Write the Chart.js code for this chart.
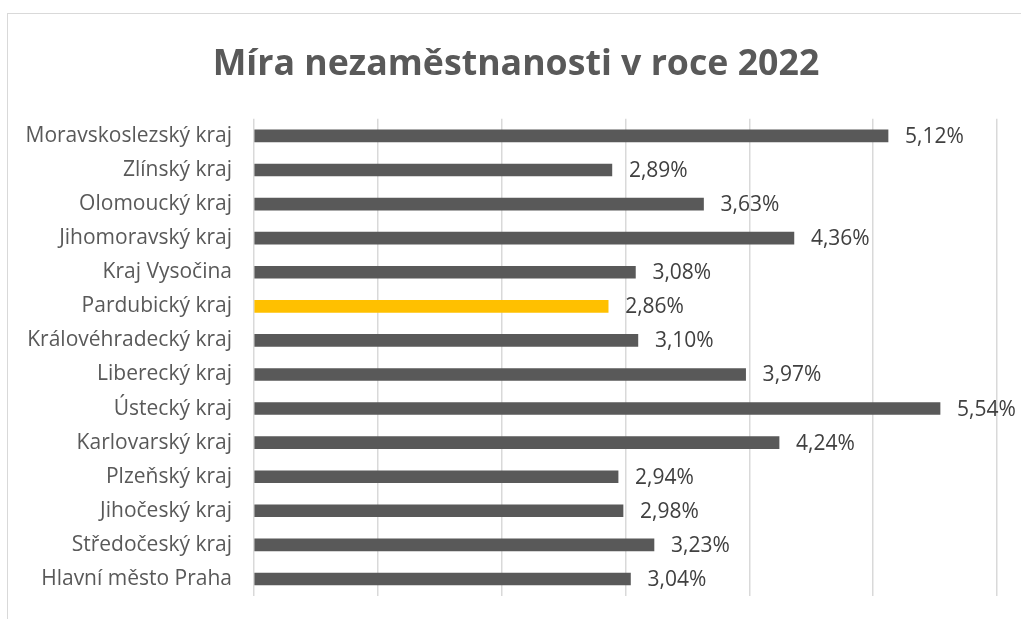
<!DOCTYPE html>
<html>
<head>
<meta charset="utf-8">
<script src="https://cdn.jsdelivr.net/npm/chart.js@4"></script>
<style>
  html, body { margin: 0; padding: 0; background: #fff; overflow: hidden; }
  #wrap { position: relative; width: 1021px; height: 619px; }
  #frame { position: absolute; left: 7px; top: 13px; width: 1100px; height: 700px; border: 1px solid #d9d9d9; box-sizing: border-box; }
  canvas { position: absolute; left: 0; top: 0; }
</style>
</head>
<body>
<div id="wrap">
  <div id="frame"></div>
  <canvas id="c" width="1021" height="619"></canvas>
</div>
<script>
const titleText = "Míra nezaměstnanosti v roce 2022";
const categories = [
  "Moravskoslezský kraj", "Zlínský kraj", "Olomoucký kraj", "Jihomoravský kraj",
  "Kraj Vysočina", "Pardubický kraj", "Královéhradecký kraj", "Liberecký kraj",
  "Ústecký kraj", "Karlovarský kraj", "Plzeňský kraj", "Jihočeský kraj",
  "Středočeský kraj", "Hlavní město Praha"
];
const values = [5.12, 2.89, 3.63, 4.36, 3.08, 2.86, 3.10, 3.97, 5.54, 4.24, 2.94, 2.98, 3.23, 3.04];
const highlighted = "Pardubický kraj";

const FONT = "'Open Sans', Lato, sans-serif";
const colors = categories.map(c => c === highlighted ? "#FFC000" : "#595959");

const valueLabels = {
  id: "valueLabels",
  afterDatasetsDraw(chart) {
    const ctx = chart.ctx;
    const meta = chart.getDatasetMeta(0);
    ctx.save();
    ctx.font = "21px " + FONT;
    ctx.fillStyle = "#404040";
    ctx.textAlign = "left";
    ctx.textBaseline = "middle";
    meta.data.forEach((bar, i) => {
      const v = values[i].toFixed(2).replace(".", ",") + "%";
      ctx.fillText(v, bar.x + 17, bar.y + 1);
    });
    ctx.restore();
  }
};

new Chart(document.getElementById("c"), {
  type: "bar",
  data: {
    labels: categories,
    datasets: [{
      data: values,
      backgroundColor: colors,
      borderWidth: 0,
      barThickness: 12
    }]
  },
  options: {
    indexAxis: "y",
    responsive: false,
    animation: false,
    layout: { padding: { left: 11, right: 0, top: 0, bottom: 23 } },
    plugins: {
      legend: { display: false },
      tooltip: { enabled: false },
      title: {
        display: true,
        text: titleText,
        color: "#595959",
        font: { family: FONT, size: 35.7, weight: "bold" },
        padding: { top: 43, bottom: 33 }
      }
    },
    scales: {
      x: {
        min: 0, max: 6,
        ticks: { display: false, stepSize: 1 },
        grid: { color: "#d9d9d9", lineWidth: 1.5, drawTicks: false },
        border: { display: false },
        afterFit(scale) { scale.height = 0; scale.paddingLeft = 0; scale.paddingRight = 0; }
      },
      y: {
        ticks: { color: "#595959", font: { family: FONT, size: 21 }, padding: 22 },
        grid: { display: false, drawTicks: false },
        border: { display: false },
        afterFit(scale) { scale.width = 243; scale.paddingTop = 0; scale.paddingBottom = 0; }
      },
      yRight: {
        position: "right",
        display: true,
        ticks: { display: false },
        grid: { display: false, drawTicks: false },
        border: { display: false },
        afterFit(scale) { scale.width = 24; scale.paddingTop = 0; scale.paddingBottom = 0; }
      }
    }
  },
  plugins: [valueLabels]
});
</script>
</body>
</html>
